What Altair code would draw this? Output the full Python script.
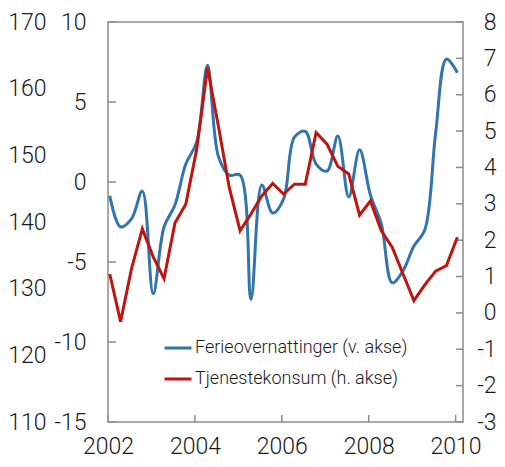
import altair as alt
import pandas as pd

# Quarterly data 2002Q1 - 2010Q1
quarters = [f"{y}Q{q}" for y in range(2002, 2011) for q in range(1, 5)][:33]

ferie = [-0.86, -2.81, -2.31, -0.57, -6.99, -2.81, -1.44, 1.12,
         2.49, 7.29, 1.61, 0.43, 0.43, -7.34, -0.19, -1.94,
         -1.07, 2.80, 3.17, 1.12, 0.68, 2.88, -0.94, 2.01,
         -0.82, -2.62, -6.30, -5.55, -4.00, -3.00, 3.05, 7.69, 6.83]

tjeneste = [1.07, -0.24, 1.21, 2.31, 1.54, 0.94, 2.47, 2.99,
            4.49, 6.74, 5.14, 3.45, 2.26, 2.72, 3.22, 3.56,
            3.27, 3.54, 3.54, 4.96, 4.64, 4.03, 3.82, 2.69,
            3.08, 2.26, 1.81, 1.07, 0.34, 0.77, 1.15, 1.30, 2.08]

left_ticks = [-15, -10, -5, 0, 5, 10]
outer_ticks = [110, 120, 130, 140, 150, 160, 170]
right_ticks = [-3, -2, -1, 0, 1, 2, 3, 4, 5, 6, 7, 8]
year_ticks = [2002, 2004, 2006, 2008, 2010]

names = ["Ferieovernattinger (v. akse)", "Tjenestekonsum (h. akse)"]
colors = ["#3274ad", "#c0140e"]


def qpos(label):
    y, q = label.split("Q")
    return int(y) + (int(q) - 1) / 4 + 0.04


t = [qpos(q) for q in quarters]
df_blue = pd.DataFrame({"t": t, "v": ferie, "s": names[0]})
df_red = pd.DataFrame({"t": t, "v": tjeneste, "s": names[1]})

W, H = 355, 400
FONT = "Roboto"
FW = 300
FS = 23
TXT = "#1a1a1a"
GRAY = "#8c8c8c"

x_enc = alt.X(
    "t:Q",
    scale=alt.Scale(domain=[2002, 2010.17], nice=False, zero=False),
    axis=alt.Axis(values=year_ticks, format="d", ticks=False, tickSize=0,
                  domain=False, grid=False, labelPadding=13, title=None,
                  labelFontSize=FS, labelFont=FONT, labelFontWeight=FW,
                  labelColor=TXT, labelFlush=False),
)

color_enc = alt.Color(
    "s:N",
    scale=alt.Scale(domain=names, range=colors),
    legend=alt.Legend(title=None, orient="none", legendX=55, legendY=311,
                      symbolType="stroke", symbolSize=729, symbolStrokeWidth=3,
                      labelFontSize=18, labelFont=FONT, labelFontWeight=FW,
                      labelColor=TXT, labelOffset=2, rowPadding=7, padding=0,
                      labelLimit=400),
)

blue = alt.Chart(df_blue).mark_line(strokeWidth=3, interpolate="catmull-rom").encode(
    x=x_enc,
    y=alt.Y("v:Q", scale=alt.Scale(domain=[-15, 10], nice=False, zero=False),
            axis=alt.Axis(orient="left", values=left_ticks, ticks=False, tickSize=0,
                          domain=False, grid=False, labelPadding=22, title=None,
                          labelFontSize=FS, labelFont=FONT, labelFontWeight=FW,
                          labelColor=TXT, labelExpr="'' + datum.value")),
    color=color_enc,
)

red = alt.Chart(df_red).mark_line(strokeWidth=3).encode(
    x=x_enc,
    y=alt.Y("v:Q", scale=alt.Scale(domain=[-3, 8], nice=False, zero=False),
            axis=alt.Axis(orient="right", values=right_ticks, ticks=False, tickSize=0,
                          domain=False, grid=False, labelPadding=33, labelAlign="right",
                          title=None, labelFontSize=FS, labelFont=FONT,
                          labelFontWeight=FW, labelColor=TXT,
                          labelExpr="'' + datum.value")),
    color=color_enc,
)

outer = alt.Chart(pd.DataFrame({"v": outer_ticks})).mark_point(opacity=0).encode(
    y=alt.Y("v:Q", scale=alt.Scale(domain=[110, 170], nice=False, zero=False),
            axis=alt.Axis(orient="left", values=outer_ticks, ticks=False, tickSize=0,
                          domain=False, grid=False, labelPadding=62, title=None,
                          labelFontSize=FS, labelFont=FONT, labelFontWeight=FW,
                          labelColor=TXT)),
    x=alt.value(0),
)

lt = alt.Chart(pd.DataFrame({"v": left_ticks})).mark_rule(color=GRAY, strokeWidth=1.5).encode(
    y=alt.Y("v:Q", scale=alt.Scale(domain=[-15, 10], nice=False, zero=False), axis=None),
    x=alt.value(0), x2=alt.value(8),
)

rt = alt.Chart(pd.DataFrame({"v": right_ticks})).mark_rule(color=GRAY, strokeWidth=1.5).encode(
    y=alt.Y("v:Q", scale=alt.Scale(domain=[-3, 8], nice=False, zero=False), axis=None),
    x=alt.value(W - 7), x2=alt.value(W),
)

bt = alt.Chart(pd.DataFrame({"t": year_ticks})).mark_rule(color=GRAY, strokeWidth=1.5).encode(
    x=x_enc,
    y=alt.value(H - 7), y2=alt.value(H),
)

chart = alt.layer(outer, lt, rt, bt, blue, red).resolve_scale(
    y="independent"
).properties(
    width=W, height=H,
    autosize=alt.AutoSizeParams(type="none"),
    padding={"left": 100, "top": 14, "right": 34, "bottom": 37},
).configure_view(stroke=GRAY, strokeWidth=1.5)

chart.save("out.html", embed_options={"renderer": "svg", "actions": False})
